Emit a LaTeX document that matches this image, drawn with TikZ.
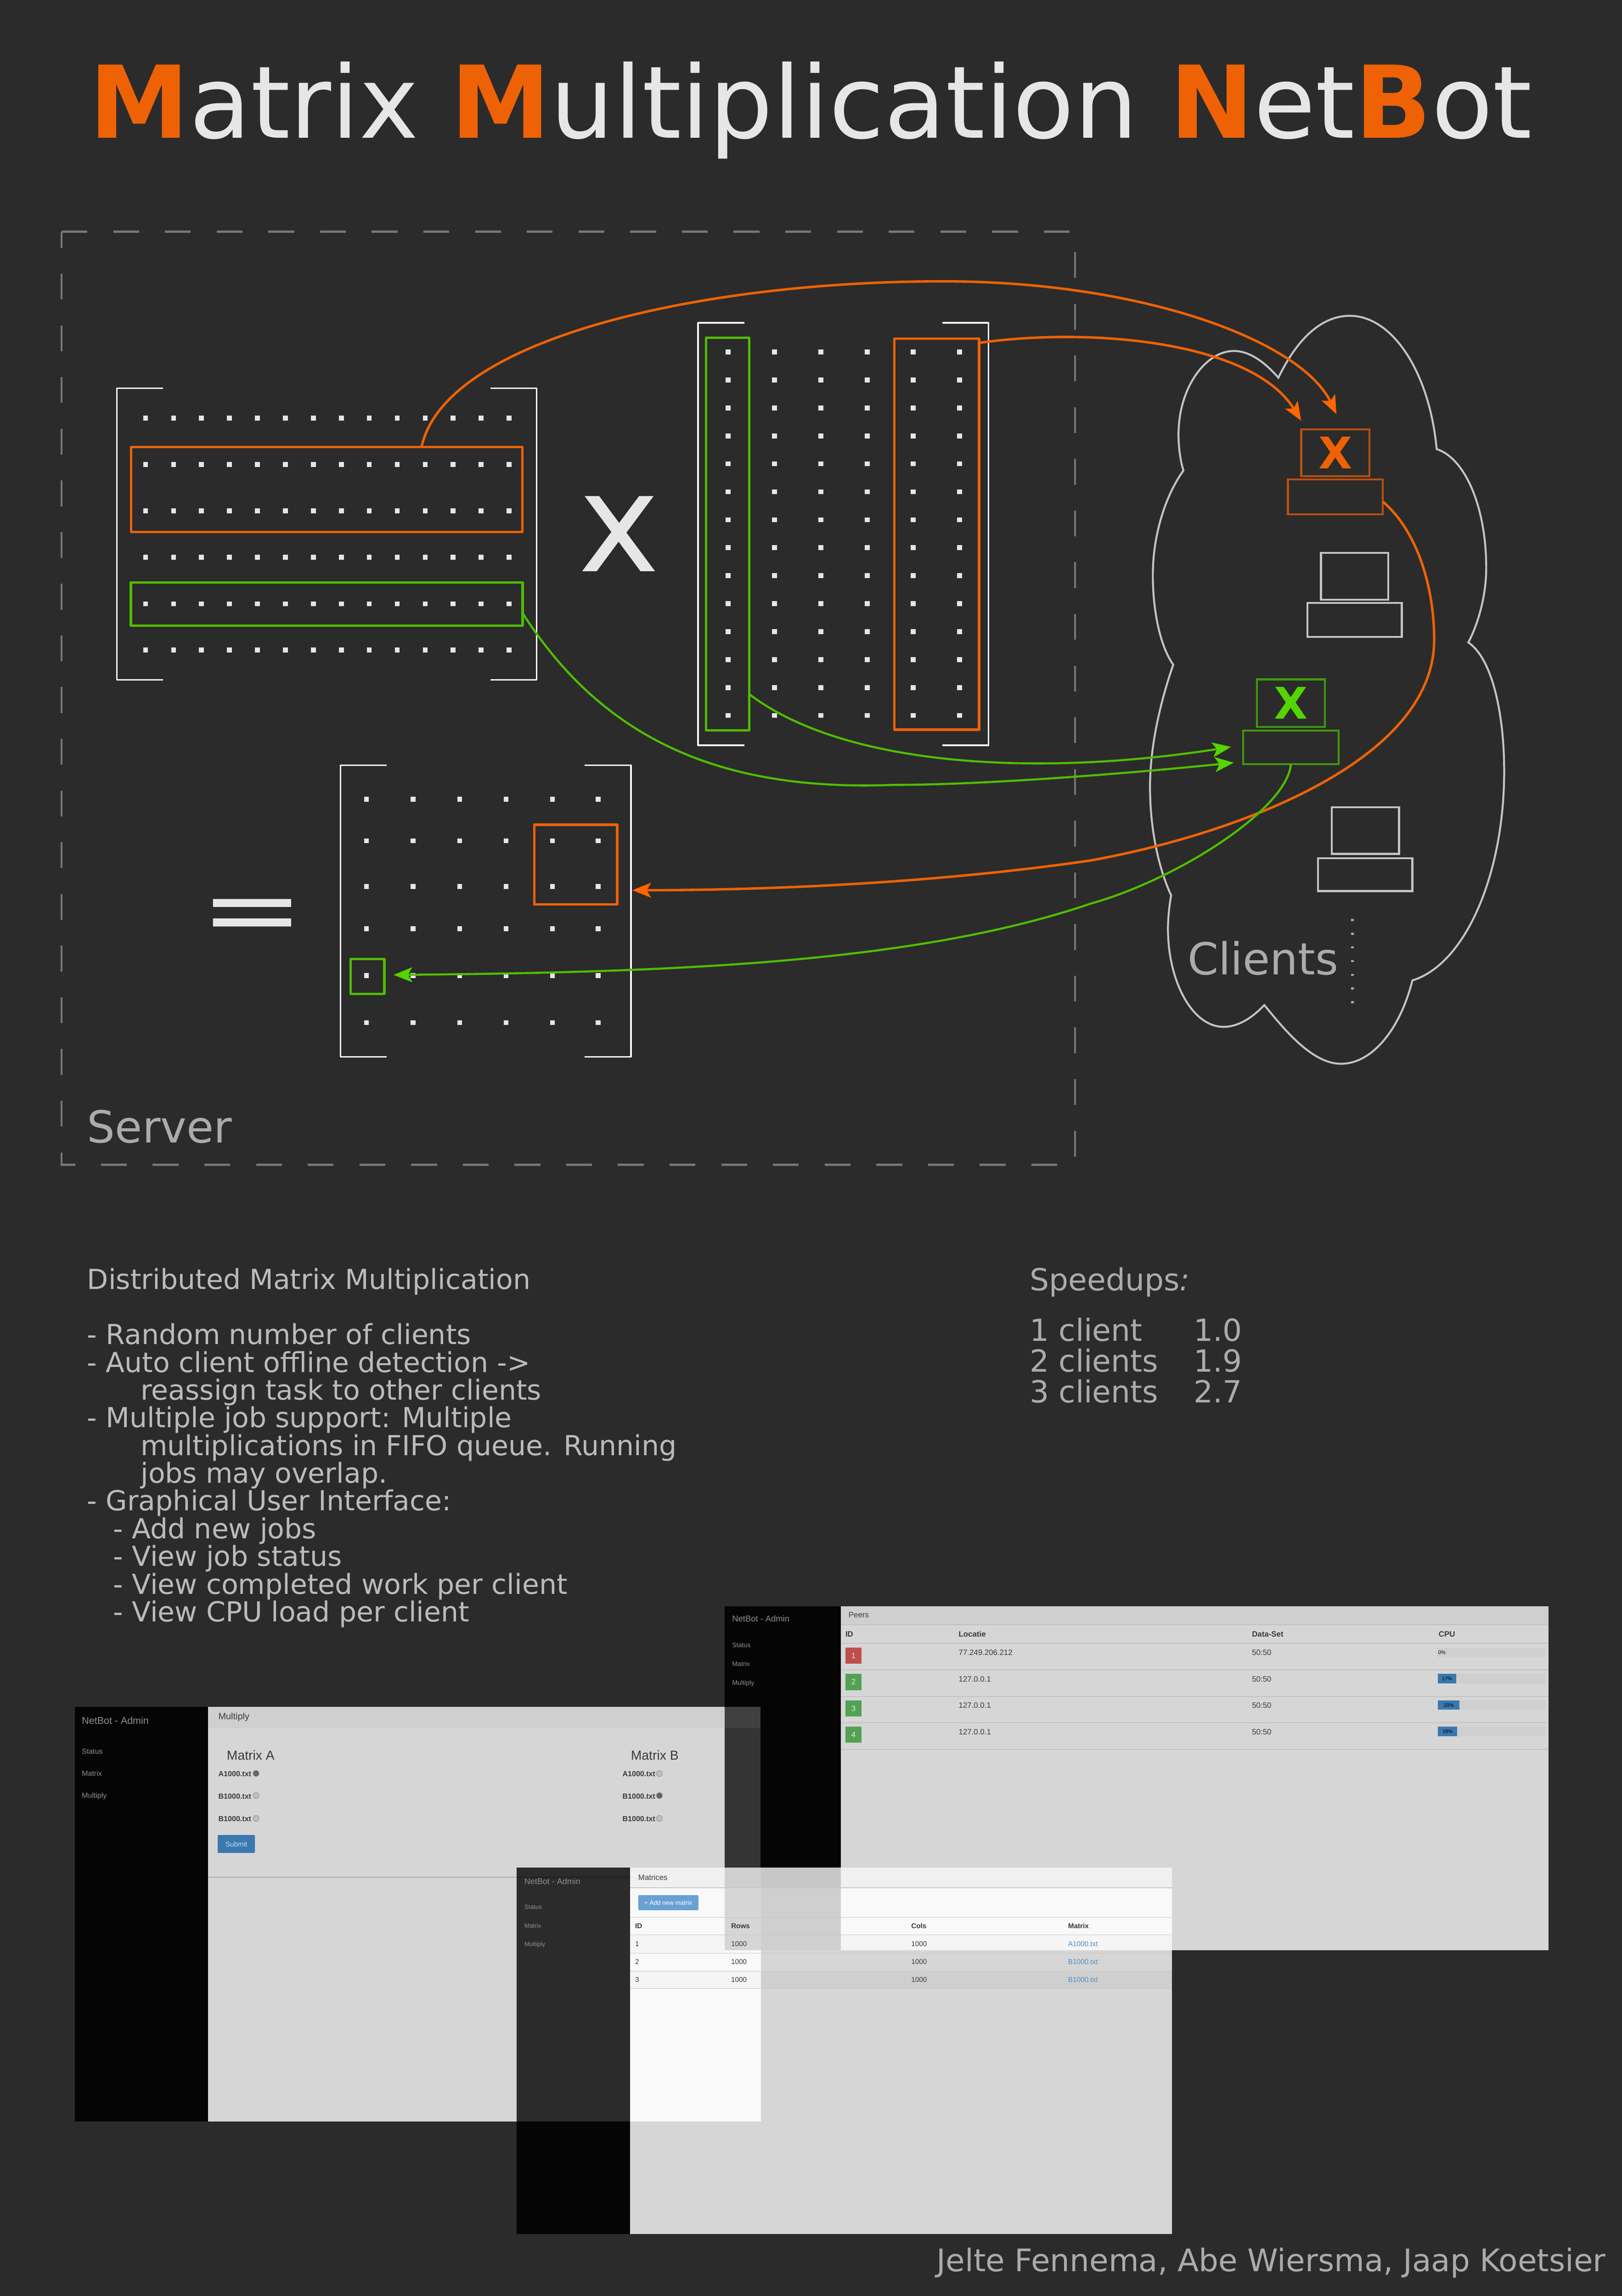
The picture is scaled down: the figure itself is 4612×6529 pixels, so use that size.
\documentclass[tikz,border=0pt]{standalone}
\usepackage{graphicx}
\usepackage{fontspec}
\setmainfont{DejaVu Sans}
\newfontfamily\shotfont{Liberation Sans}
\usetikzlibrary{
    arrows.meta
}
\definecolor{bgcol}{HTML}{2B2B2B}
\definecolor{hot}{HTML}{EE6205}
\definecolor{hottip}{HTML}{FF6600}
\definecolor{hotdark}{HTML}{B8500F}
\definecolor{lime}{HTML}{4FBD00}
\definecolor{limetip}{HTML}{55D400}
\definecolor{limedark}{HTML}{3F9A0A}
\definecolor{soft}{HTML}{E6E6E6}
\definecolor{muted}{HTML}{ABABAB}
\definecolor{navcol}{HTML}{8F8F8F}
\definecolor{bodycol}{HTML}{BBBBBB}
\definecolor{dashcol}{HTML}{777777}
\definecolor{cloudcol}{HTML}{C4C4C4}
\definecolor{ink}{HTML}{3A3A3A}
\definecolor{btn}{HTML}{3A78B0}
\definecolor{btnlight}{HTML}{6AA1D5}
\definecolor{linkcol}{HTML}{4F8AC0}
\newcommand{\fsz}[1]{\fontsize{#1}{#1}\selectfont}
\newcommand{\hot}[1]{\textcolor{hot}{\textbf{#1}}}
\tikzset{
    label/.style={font=\fsz{12.55},text=muted,anchor=base west,inner sep=0pt},
    body/.style={font=\fontsize{7.85}{7.88}\selectfont,text=bodycol,anchor=north west,inner sep=0pt,align=left},
    speedtxt/.style={font=\fsz{8.66},text=muted,anchor=base west,inner sep=0pt},
    shot/.style={font=\shotfont\fsz{2.2},text=ink,anchor=base west,inner sep=0pt},
    side/.style={shot,text=navcol},
    shotb/.style={shot,font=\shotfont\bfseries\fsz{2.2}},
    brk/.style={draw=white,line width=0.45pt,line join=round},
    hotbox/.style={draw=hot,line width=0.7pt,inner sep=0pt,outer sep=0pt,anchor=north west,line join=round},
    limebox/.style={draw=lime,line width=0.7pt,inner sep=0pt,outer sep=0pt,anchor=north west,line join=round},
    hotarr/.style={draw=hot,line width=0.7pt,-{Stealth[length=5.3pt,width=4.2pt,inset=1.2pt,color=hottip]}},
    limearr/.style={draw=lime,line width=0.6pt,-{Stealth[length=5.3pt,width=4.2pt,inset=1.2pt,color=limetip]}},
    pc/.style={inner sep=0pt,outer sep=0pt,anchor=north west,draw=#1,line width=0.55pt},
    radio/.style={circle,draw=gray,fill=lightgray,line width=0.1pt,inner sep=0pt,minimum size=1.7pt}
}
\begin{document}
\begin{tikzpicture}[x=0.1pt,y=-0.1pt]
    \fill[bgcol] (0,0) rectangle (4612,6529);
    \useasboundingbox (0,0) rectangle (4612,6529);
    % title
    \node[anchor=base west,inner sep=0pt,text=soft,font=\fsz{28.55}] (title) at (252,393)
        {\hot{M}atrix \hot{M}ultiplication \hot{N}et\hot{B}ot};
    % server box
    \draw[draw=dashcol,line width=0.57pt,dash pattern=on 7.35pt off 7.35pt]
        (175,659) -- (3057,659) -- (3057,3312) -- (175,3312) -- cycle;
    \node[label] (server) at (246,3250) {Server};
    % matrix A
    \draw[brk] (464,1104) -- (332,1104) -- (332,1933) -- (464,1933);
    \draw[brk] (1394,1104) -- (1526,1104) -- (1526,1933) -- (1394,1933);
    \foreach \r in {1189,1321,1453,1585,1717,1848}
        \foreach \c in {0,...,13}
            \fill[soft] ({414+79.5*\c-7},\r-7) rectangle ++(14,14);
    \node[hotbox,minimum width=111.25pt,minimum height=24.1pt] (rowA) at (373,1271.5) {};
    \node[limebox,minimum width=111.4pt,minimum height=12.3pt] (rowB) at (372,1656) {};
    \node[anchor=base,inner sep=0pt,text=soft,font=\fsz{39.1}] (times) at (1760,1625) {x};
    % matrix B
    \draw[brk] (2117,918) -- (1985,918) -- (1985,2119) -- (2117,2119);
    \draw[brk] (2679,918) -- (2811,918) -- (2811,2119) -- (2679,2119);
    \foreach \c in {2070,2202,2334,2466,2597,2728}
        \foreach \r in {0,...,13}
            \fill[soft] (\c-7,{1001+79.5*\r-7}) rectangle ++(14,14);
    \node[limebox,minimum width=12.25pt,minimum height=111.66pt] (colA) at (2007.5,960) {};
    \node[hotbox,minimum width=24.1pt,minimum height=111.2pt] (colB) at (2543,963) {};
    % result
    \node[anchor=base,inner sep=0pt,text=soft,font=\fsz{35.5}] (equals) at (717,2683) {\scalebox{1}[.78]{=}};
    \draw[brk] (1100,2176) -- (968,2176) -- (968,3005) -- (1100,3005);
    \draw[brk] (1662,2176) -- (1794,2176) -- (1794,3005) -- (1662,3005);
    \foreach \r in {2273,2391,2521,2641,2774,2908}
        \foreach \c in {1042,1175,1307,1439,1571,1701}
            \fill[soft] (\c-7,\r-7) rectangle ++(14,14);
    \node[hotbox,minimum width=23.6pt,minimum height=22.7pt] (resA) at (1519,2345) {};
    \node[limebox,minimum width=9.6pt,minimum height=9.9pt] (resB) at (997,2727) {};
    % cloud
    \draw[draw=cloudcol,line width=0.55pt,line join=miter] (3635,1074)
        .. controls (3690,960) and (3760,898) .. (3838,898)
        .. controls (3960,898) and (4065,1060) .. (4085,1277)
        .. controls (4170,1305) and (4226,1450) .. (4226,1614)
        .. controls (4226,1700) and (4200,1780) .. (4175,1827)
        .. controls (4240,1870) and (4277,2020) .. (4277,2194)
        .. controls (4277,2480) and (4170,2740) .. (4016,2788)
        .. controls (3980,2930) and (3900,3025) .. (3813,3025)
        .. controls (3730,3025) and (3650,2925) .. (3595,2858)
        .. controls (3560,2895) and (3520,2920) .. (3479,2920)
        .. controls (3390,2920) and (3321,2790) .. (3321,2641)
        .. controls (3321,2610) and (3325,2575) .. (3330,2546)
        .. controls (3295,2470) and (3270,2360) .. (3270,2238)
        .. controls (3270,2110) and (3305,1980) .. (3336,1890)
        .. controls (3300,1840) and (3278,1740) .. (3278,1636)
        .. controls (3278,1510) and (3320,1400) .. (3365,1338)
        .. controls (3356,1310) and (3351,1270) .. (3351,1236)
        .. controls (3351,1100) and (3430,998) .. (3508,998)
        .. controls (3560,998) and (3605,1040) .. (3635,1074) -- cycle;
    % clients
    \node[pc=hotdark,minimum width=19.4pt,minimum height=13.3pt] (pcAtop) at (3700,1221) {};
    \node[pc=hotdark,minimum width=27pt,minimum height=9.9pt] (pcAbase) at (3662,1363) {};
    \node[pc=cloudcol,minimum width=19.1pt,minimum height=13.3pt] (pcBtop) at (3756,1572) {};
    \node[pc=cloudcol,minimum width=26.8pt,minimum height=9.6pt] (pcBbase) at (3718,1715) {};
    \node[pc=limedark,minimum width=19.35pt,minimum height=13.5pt] (pcCtop) at (3574,1932) {};
    \node[pc=limedark,minimum width=27.1pt,minimum height=9.5pt] (pcCbase) at (3535,2078) {};
    \node[pc=cloudcol,minimum width=19.1pt,minimum height=13.2pt] (pcDtop) at (3787,2296) {};
    \node[pc=cloudcol,minimum width=26.8pt,minimum height=9.4pt] (pcDbase) at (3748,2440) {};
    \node[inner sep=0pt,text=hot,font=\bfseries\fsz{12.4}] (xA) at (pcAtop.center) {X};
    \node[inner sep=0pt,text=limetip,font=\bfseries\fsz{12.4}] (xC) at (pcCtop.center) {X};
    \node[label] (clients) at (3375,2772) {Clients};
    \foreach \r in {0,...,6}
        \fill[muted] (3841,{2613+39*\r}) rectangle ++(8,6);
    % connectors
    \draw[hotarr,shorten >=4.8pt] ([xshift=27pt,yshift=.3pt]rowA.north)
        .. controls (1270,960) and (2000,800) .. (2681,800)
        .. controls (3250,800) and (3700,970) .. ([xshift=2.4pt]pcAtop.north);
    \draw[hotarr,shorten >=2.9pt] ([yshift=-1.2pt]colB.north east)
        .. controls (3100,930) and (3560,970) .. ([xshift=1.5pt]pcAtop.north west);
    \draw[hotarr,shorten >=4.3pt] ([yshift=-1.4pt]pcAbase.east)
        .. controls (4030,1510) and (4078,1670) .. (4078,1819)
        .. controls (4078,2170) and (3500,2375) .. (3100,2447)
        .. controls (2700,2505) and (2250,2531) .. ([yshift=-7.3pt]resA.east);
    \draw[limearr,shorten >=3.5pt] ([yshift=10.3pt]colA.south east)
        .. controls (2400,2180) and (2950,2210) .. ([yshift=.7pt]pcCbase.west);
    \draw[limearr,shorten >=2.7pt] ([yshift=-2.6pt]rowB.east)
        .. controls (1720,2110) and (2060,2250) .. (2537,2232)
        .. controls (2800,2232) and (3200,2200) .. ([yshift=.7pt]pcCbase.south west);
    \draw[limearr,shorten >=2.6pt] (pcCbase.south)
        .. controls (3660,2300) and (3350,2500) .. (3100,2570)
        .. controls (2600,2740) and (1900,2765) .. ([yshift=.4pt]resB.east);
    % text
    \node[body] (about) at (246,3604) {Distributed Matrix Multiplication\\[7.88pt]
        - Random number of clients\\
        - Auto client offline detection ->\\
        \hspace*{15.2pt}reassign task to other clients\\
        - Multiple job support: Multiple\\
        \hspace*{15.2pt}multiplications in FIFO queue. Running\\
        \hspace*{15.2pt}jobs may overlap.\\
        - Graphical User Interface:\\
        \hspace*{7.4pt}- Add new jobs\\
        \hspace*{7.4pt}- View job status\\
        \hspace*{7.4pt}- View completed work per client\\
        \hspace*{7.4pt}- View CPU load per client};
    \node[speedtxt] (speed) at (2926,3670) {Speedups\textit{:}};
    \foreach \n/\y/\a/\b in {a/3814/1 client/1.0,b/3901/2 clients/1.9,c/3989/3 clients/2.7} {
        \node[speedtxt] (sp\n) at (2926,\y) {\a};
        \node[speedtxt] (sv\n) at (3392,\y) {\b};
    }
    \node[speedtxt,anchor=base east,font=\fsz{8.83}] (credits) at (4568,6459) {Jelte Fennema, Abe Wiersma, Jaap Koetsier};
    % screenshot: peers
    \fill[black!98] (2060,4568) rectangle (2391,5546);
    \fill[black!16] (2391,4568) rectangle (4403,5546);
    \fill[black!19] (2391,4568) rectangle (4403,4621);
    \foreach \y in {4621,4673,4749,4824,4899,4974}
        \draw[black!30,line width=0.15pt] (2391,\y) -- (4403,\y);
    \node[side,font=\shotfont\fsz{2.4}] (peersBrand) at (2080,4612) {NetBot - Admin};
    \foreach \n/\t/\y in {a/Status/4684,b/Matrix/4738,c/Multiply/4792}
        \node[side,font=\shotfont\fsz{1.85}] (peersNav\n) at (2080,\y) {\t};
    \node[shot] (peersHead) at (2411,4599) {Peers};
    \foreach \n/\t/\x in {a/ID/2402,b/Locatie/2724,c/Data-Set/3558,d/CPU/4089}
        \node[shotb] (peersCol\n) at (\x,4655) {\t};
    \foreach \i/\y/\c/\a/\p/\w in {1/4685/BF4F4C/77.249.206.212/0\%/0,2/4760/53A253/127.0.0.1/17\%/51,3/4835/53A253/127.0.0.1/20\%/61,4/4910/53A253/127.0.0.1/18\%/54} {
        \definecolor{badgecol}{HTML}{\c}
        \fill[badgecol] (2404,\y) rectangle ++(46,46);
        \node[shot,anchor=center,text=white!80!badgecol] (peersId\i) at (2427,\y+23) {\i};
        \node[shot] (peersIp\i) at (2724,\y+22) {\a};
        \node[shot] (peersSet\i) at (3558,\y+22) {50:50};
        \fill[black!19] (4089,\y) rectangle (4394,\y+27);
        \fill[btn] (4089,\y) rectangle ++(\w,27);
        \node[shot,font=\shotfont\fsz{1.45},anchor=base,text=black] (peersLoad\i) at ({4089+max(\w/2,11)},\y+19) {\p};
    }
    % screenshot: multiply
    \fill[black!98] (213,4853) rectangle (592,6033);
    \fill[black!16] (592,4853) rectangle (2163,6033);
    \fill[black!19] (592,4853) rectangle (2163,4914);
    \fill[bgcol!96!white] (2060,4853) rectangle (2163,5311);
    \fill[bgcol!90!white] (2060,4853) rectangle (2163,4914);
    \draw[black!32,line width=0.15pt] (592,5338) -- (2060,5338);
    \node[side,font=\shotfont\fsz{2.8}] (multBrand) at (231,4903) {NetBot - Admin};
    \foreach \n/\t/\y in {a/Status/4987,b/Matrix/5050,c/Multiply/5113}
        \node[side,font=\shotfont\fsz{2.08}] (multNav\n) at (231,\y) {\t};
    \node[shot,font=\shotfont\fsz{2.6}] (multHead) at (619,4889) {Multiply};
    \node[shot,font=\shotfont\fsz{3.7}] (multA) at (643,5005) {Matrix A};
    \node[shot,font=\shotfont\fsz{3.7}] (multB) at (1792,5005) {Matrix B};
    \foreach \i/\t/\y/\on/\off in {1/A1000.txt/5052/black!60/lightgray,2/B1000.txt/5115/lightgray/black!60,3/B1000.txt/5180/lightgray/lightgray} {
        \node[shotb,font=\shotfont\bfseries\fsz{2.1}] (multLa\i) at (619,\y) {\t};
        \node[radio,fill=\on] (multRa\i) at (728,\y-9) {};
        \node[shotb,font=\shotfont\bfseries\fsz{2.1}] (multLb\i) at (1768,\y) {\t};
        \node[radio,fill=\off] (multRb\i) at (1875,\y-9) {};
    }
    \fill[btn,rounded corners=0.3pt] (619,5218) rectangle (725,5269);
    \node[shot,anchor=center,font=\shotfont\fsz{2},text=white!75!btn] (submit) at (672,5244) {Submit};
    % screenshot: matrices
    \fill[black!98] (1469,5311) rectangle (1792,6352);
    \fill[bgcol] (1469,5311) rectangle (1792,6033);
    \fill[black!16] (1792,5311) rectangle (3332,6352);
    \fill[white!97.5!black] (1792,5311) rectangle (2164,6033);
    \fill[white!97.5!black] (2391,5311) rectangle (3332,5546);
    \fill[black!16] (2060,5311) rectangle (2164,5546);
    \fill[black!19] (2164,5311) rectangle (2391,5546);
    % header band and stripes
    \fill[black!6] (1792,5311) rectangle (2060,5368);
    \fill[black!19] (2060,5311) rectangle (2164,5368);
    \fill[black!22] (2164,5311) rectangle (2391,5368);
    \fill[black!6] (2391,5311) rectangle (3332,5368);
    \fill[black!4] (1792,5502) rectangle (2060,5554);
    \fill[black!4] (2391,5502) rectangle (3332,5546);
    \fill[black!4] (1792,5605) rectangle (2164,5655);
    \fill[black!19] (2164,5605) rectangle (3332,5655);
    \foreach \y in {5368,5452,5502,5554,5605,5655}
        \draw[black!22,line width=0.15pt] (1792,\y) -- (3332,\y);
    \draw[bgcol!70!black,line width=0.15pt] (1469,5338) -- (1792,5338);
    \node[side,font=\shotfont\fsz{2.35}] (matBrand) at (1489,5358) {NetBot - Admin};
    \foreach \n/\t/\y in {a/Status/5429,b/Matrix/5482,c/Multiply/5534}
        \node[side,font=\shotfont\fsz{1.75}] (matNav\n) at (1489,\y) {\t};
    \node[shot] (matHead) at (1813,5347) {Matrices};
    \fill[btnlight,rounded corners=0.3pt] (1815,5389) rectangle (1986,5432);
    \node[shot,anchor=center,font=\shotfont\fsz{1.75},text=white] (addMatrix) at (1900,5411) {+ Add new matrix};
    \foreach \n/\t/\x in {a/ID/1804,b/Rows/2077,c/Cols/2589,d/Matrix/3035}
        \node[shotb,font=\shotfont\bfseries\fsz{2}] (matCol\n) at (\x,5484) {\t};
    \foreach \i/\y/\f in {1/5535/A1000.txt,2/5585/B1000.txt,3/5636/B1000.txt} {
        \node[shot,font=\shotfont\fsz{2}] (matId\i) at (1804,\y) {\i};
        \node[shot,font=\shotfont\fsz{2}] (matRows\i) at (2077,\y) {1000};
        \node[shot,font=\shotfont\fsz{2}] (matCols\i) at (2589,\y) {1000};
        \node[shot,font=\shotfont\fsz{2},text=linkcol] (matFile\i) at (3035,\y) {\f};
    }
\end{tikzpicture}
\end{document}
